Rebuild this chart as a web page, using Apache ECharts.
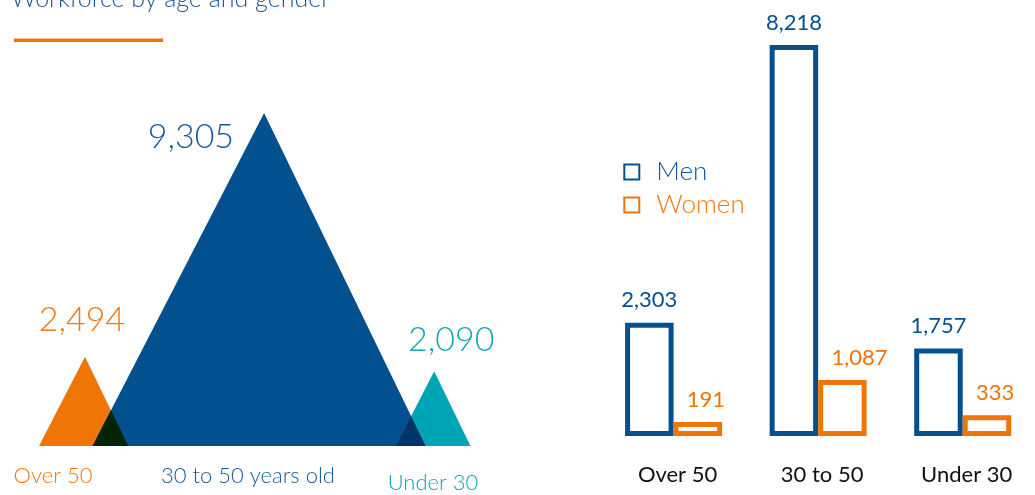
<!DOCTYPE html>
<html>
<head>
<meta charset="utf-8">
<title>Workforce by age and gender</title>
<script src="https://cdn.jsdelivr.net/npm/echarts@6/dist/echarts.min.js"></script>
<style>
    html, body { margin: 0; padding: 0; background: #fff; }
    #chart { width: 1035px; height: 495px; }
</style>
</head>
<body>
<div id="chart"></div>
<script type="text/javascript">
// data
var ageGroups = ['Over 50', '30 to 50 years old', 'Under 30'];
var ageTotals = [2494, 9305, 2090];
var barCategories = ['Over 50', '30 to 50', 'Under 30'];
var menValues = [2303, 8218, 1757];
var womenValues = [191, 1087, 333];

var BLUE = '#03508f', ORANGE = '#ef7507', TEAL = '#00a5b5';
var triColors = [ORANGE, BLUE, TEAL];
var textColors = ['#ef7a12', '#165a98', '#10a6b4'];
// label placement relative to the apex: [dx, dy, align]
var triLabelPos = [[-3, -37, 'center'], [-30, 24, 'right'], [17, -31, 'center']];

// triangles overlap by 40% of the smaller base
var triData = [];
var start = 0;
for (var i = 0; i < ageTotals.length; i++) {
    if (i > 0) start += ageTotals[i - 1] - 0.4 * Math.min(ageTotals[i - 1], ageTotals[i]);
    triData.push([start, ageTotals[i], i]);
}

// colour of two overlapping shapes (multiply)
function multiply(a, b) {
    var ca = echarts.color.parse(a), cb = echarts.color.parse(b);
    return 'rgb(' + [0, 1, 2].map(function (k) { return Math.round(ca[k] * cb[k] / 255); }).join(',') + ')';
}

function triPoints(s, v, api) {
    var l = api.coord([s, 0]), r = api.coord([s + v, 0]);
    var top = api.coord([s + v * 0.515, v]);   // apex leans slightly right
    return [l, r, top];
}

function lineCross(p1, p2, p3, p4) {
    var d = (p1[0] - p2[0]) * (p3[1] - p4[1]) - (p1[1] - p2[1]) * (p3[0] - p4[0]);
    var a = p1[0] * p2[1] - p1[1] * p2[0], b = p3[0] * p4[1] - p3[1] * p4[0];
    return [(a * (p3[0] - p4[0]) - (p1[0] - p2[0]) * b) / d, (a * (p3[1] - p4[1]) - (p1[1] - p2[1]) * b) / d];
}

var BAR_W = 43.5, BAR_GAP = 5, BAR_STROKE = 5;
function barItem(side, color, labelDx, labelAlign) {
    return function (params, api) {
        var i = api.value(0), v = api.value(1);
        var base = api.coord([i, 0]), top = api.coord([i, v]);
        var x = side < 0 ? base[0] - BAR_GAP / 2 - BAR_W : base[0] + BAR_GAP / 2;
        return {
            type: 'group',
            children: [
                { type: 'rect', shape: { x: x, y: top[1], width: BAR_W, height: base[1] - top[1] },
                  style: { fill: '#fff', stroke: color, lineWidth: BAR_STROKE } },
                { type: 'text', style: { text: echarts.format.addCommas(v), x: x + BAR_W / 2 + labelDx, y: top[1] - 25,
                  align: labelAlign, verticalAlign: 'middle', fill: color, fontSize: 22, fontFamily: 'Lato' } }
            ]
        };
    };
}

var chart = echarts.init(document.getElementById('chart'));

chart.setOption({
    backgroundColor: '#fff',
    animation: false,
    textStyle: { fontFamily: 'Lato' },
    graphic: [
        { type: 'text', left: 11, top: -14, style: { text: 'Workforce by age and gender', fill: '#1d5a98', fontSize: 25, fontWeight: 300, fontFamily: 'Lato' } },
        { type: 'rect', shape: { x: 14, y: 38.5, width: 149, height: 3.5 }, style: { fill: ORANGE } },
        { type: 'text', x: 53, y: 476, style: { text: ageGroups[0], fill: textColors[0], fontSize: 22, fontWeight: 300, fontFamily: 'Lato', align: 'center', verticalAlign: 'middle' } },
        { type: 'text', x: 248, y: 476, style: { text: ageGroups[1], fill: textColors[1], fontSize: 22, fontWeight: 300, fontFamily: 'Lato', align: 'center', verticalAlign: 'middle' } },
        { type: 'text', x: 433, y: 483, style: { text: ageGroups[2], fill: textColors[2], fontSize: 22, fontWeight: 300, fontFamily: 'Lato', align: 'center', verticalAlign: 'middle' } }
    ],
    grid: [
        { left: 39, top: 16.5, width: 429.5, height: 429.5 },
        { left: 601.3, top: 10.8, width: 439.2, height: 422.7 }
    ],
    xAxis: [
        { gridIndex: 0, type: 'value', min: 0, max: 12000, show: false },
        {
            gridIndex: 1, type: 'category', data: barCategories,
            axisLine: { show: false }, axisTick: { show: false },
            axisLabel: { margin: 30, color: '#111', fontSize: 22, fontFamily: 'Lato', padding: [0, 0, 0, 8] }
        }
    ],
    yAxis: [
        { gridIndex: 0, type: 'value', min: 0, max: 12000, show: false },
        { gridIndex: 1, type: 'value', min: 0, max: 9000, show: false }
    ],
    legend: {
        orient: 'vertical',
        left: 623.3, top: 159, padding: 0,
        itemWidth: 15, itemHeight: 15, itemGap: 7,
        icon: 'rect',
        textStyle: { fontSize: 26, fontWeight: 300, fontFamily: 'Lato', lineHeight: 26, padding: [0, 0, 0, 12] },
        data: [
            { name: 'Men', itemStyle: { color: '#fff', borderColor: BLUE, borderWidth: 2 }, textStyle: { color: '#165a98' } },
            { name: 'Women', itemStyle: { color: '#fff', borderColor: ORANGE, borderWidth: 2 }, textStyle: { color: '#ef7a12' } }
        ]
    },
    series: [
        {
            type: 'custom',
            xAxisIndex: 0, yAxisIndex: 0,
            data: triData,
            renderItem: function (params, api) {
                var s = api.value(0), v = api.value(1), idx = api.value(2);
                var pts = triPoints(s, v, api);
                var lp = triLabelPos[idx];
                var children = [
                    { type: 'polygon', shape: { points: pts }, style: { fill: triColors[idx] } }
                ];
                // darker overlap with the previous triangle
                if (idx > 0) {
                    var prev = triData[idx - 1];
                    var pp = triPoints(prev[0], prev[1], api);
                    var cross = lineCross(pp[1], pp[2], pts[0], pts[2]);
                    children.push({ type: 'polygon', shape: { points: [pts[0], pp[1], cross] },
                        style: { fill: multiply(triColors[idx - 1], triColors[idx]) } });
                }
                children.push({
                    type: 'text',
                    style: {
                        text: echarts.format.addCommas(v),
                        x: pts[2][0] + lp[0], y: pts[2][1] + lp[1],
                        fill: textColors[idx], fontSize: 34, fontWeight: 300, fontFamily: 'Lato',
                        align: lp[2], verticalAlign: 'middle'
                    }
                });
                return { type: 'group', children: children };
            }
        },
        {
            name: 'Men', type: 'custom', xAxisIndex: 1, yAxisIndex: 1,
            data: menValues.map(function (v, i) { return [i, v]; }),
            itemStyle: { color: '#fff', borderColor: BLUE },
            renderItem: barItem(-1, BLUE, 0, 'center')
        },
        {
            name: 'Women', type: 'custom', xAxisIndex: 1, yAxisIndex: 1,
            data: womenValues.map(function (v, i) { return [i, v]; }),
            itemStyle: { color: '#fff', borderColor: ORANGE },
            renderItem: barItem(1, ORANGE, -11, 'left')
        }
    ]
});
</script>
</body>
</html>
